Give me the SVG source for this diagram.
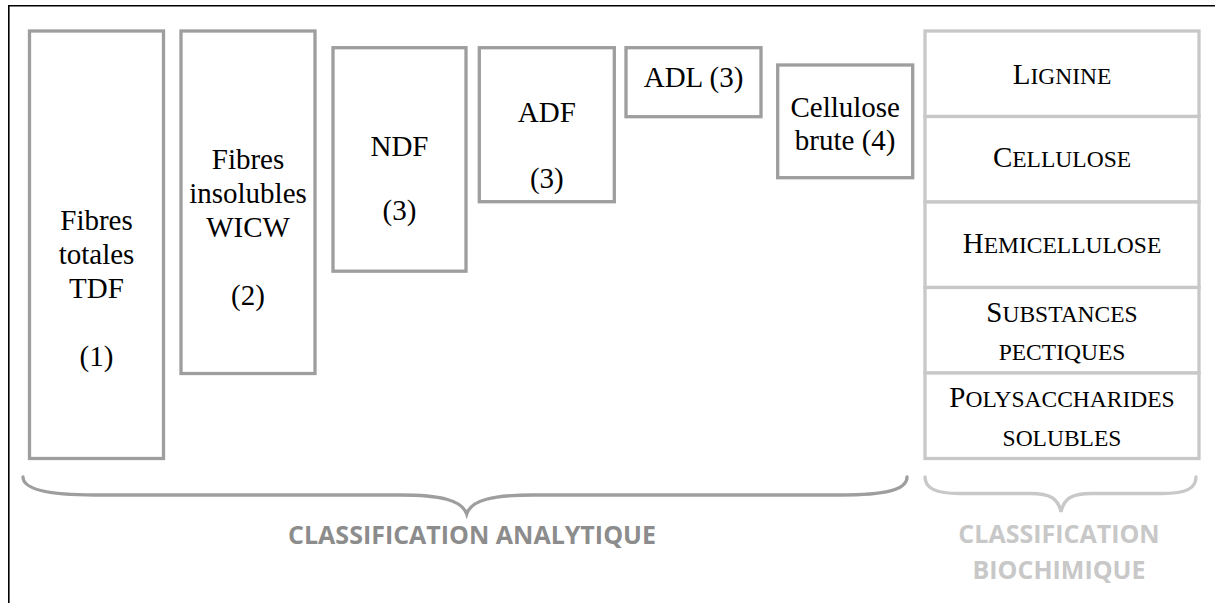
<svg xmlns="http://www.w3.org/2000/svg" width="1215" height="603" viewBox="0 0 1215 603">
<style>
.box{fill:#fff;stroke:#9e9e9e;stroke-width:3.3}
.bio{fill:#fff;stroke:#c8c8c8;stroke-width:3.3}
.t{font-family:"Liberation Serif","Times New Roman",serif;font-size:29px;fill:#000;text-anchor:middle}
.s{font-size:23.5px}
.lab{font-family:"Open Sans","Liberation Sans",sans-serif;font-weight:bold;font-size:25px;text-anchor:middle}
.brace{fill:none;stroke-width:3.3;stroke-linecap:round}
</style>
<rect width="1215" height="603" fill="#fff"/>
<g id="frame" fill="none" stroke="#000" stroke-width="1.6">
<line x1="8" y1="5.8" x2="1215" y2="5.8"/>
<line x1="8.8" y1="5" x2="8.8" y2="603"/>
</g>
<g id="tdf">
<rect class="box" x="29.5" y="31" width="134" height="427.5"/>
<text class="t" x="96.5" y="229.5">Fibres</text>
<text class="t" x="96.5" y="263.5">totales</text>
<text class="t" x="96.5" y="297.5">TDF</text>
<text class="t" x="96.5" y="365.5">(1)</text>
</g>
<g id="wicw">
<rect class="box" x="181" y="31" width="134" height="342.5"/>
<text class="t" x="248" y="169">Fibres</text>
<text class="t" x="248" y="203">insolubles</text>
<text class="t" x="248" y="237">WICW</text>
<text class="t" x="248" y="305">(2)</text>
</g>
<g id="ndf">
<rect class="box" x="333" y="47.7" width="133" height="223.5"/>
<text class="t" x="399.5" y="156">NDF</text>
<text class="t" x="399.5" y="220">(3)</text>
</g>
<g id="adf">
<rect class="box" x="479.3" y="47.7" width="135" height="154"/>
<text class="t" x="546.8" y="121.5">ADF</text>
<text class="t" x="546.8" y="188">(3)</text>
</g>
<g id="adl">
<rect class="box" x="626" y="47.7" width="135" height="69"/>
<text class="t" x="693.5" y="86.7">ADL (3)</text>
</g>
<g id="cellulose-brute">
<rect class="box" x="777.7" y="65" width="135" height="112.7"/>
<text class="t" x="845.2" y="116.7">Cellulose</text>
<text class="t" x="845.2" y="149.5">brute (4)</text>
</g>
<g id="biochimique">
<g id="lignine">
<rect class="bio" x="925" y="31" width="274" height="85.5"/>
<text class="t" x="1062" y="84">L<tspan class="s">IGNINE</tspan></text>
</g>
<g id="cellulose">
<rect class="bio" x="925" y="116.5" width="274" height="85.5"/>
<text class="t" x="1062" y="167">C<tspan class="s">ELLULOSE</tspan></text>
</g>
<g id="hemicellulose">
<rect class="bio" x="925" y="202" width="274" height="85.5"/>
<text class="t" x="1062" y="253">H<tspan class="s">EMICELLULOSE</tspan></text>
</g>
<g id="pectiques">
<rect class="bio" x="925" y="287.5" width="274" height="85.5"/>
<text class="t" x="1062" y="322">S<tspan class="s">UBSTANCES</tspan></text>
<text class="t s" x="1062" y="360">PECTIQUES</text>
</g>
<g id="solubles">
<rect class="bio" x="925" y="373" width="274" height="85.5"/>
<text class="t" x="1062" y="407">P<tspan class="s">OLYSACCHARIDES</tspan></text>
<text class="t s" x="1062" y="446">SOLUBLES</text>
</g>
</g>
<g id="connectors">
<path class="brace" stroke="#9e9e9e" d="M23,477 C23,490 50,495 95,495 L400,495 C440,495 462,500 466.7,514 C471,500 493,495 533,495 L840,495 C885,495 907,490 907,477"/>
<path class="brace" stroke="#c8c8c8" d="M925,477 C925,488 935,493.5 960,493.5 L1030,493.5 C1050,493.5 1058,498 1061,512 C1064,498 1072,493.5 1092,493.5 L1162,493.5 C1187,493.5 1196,488 1196,477"/>
</g>
<g id="label-analytique">
<text class="lab" x="472" y="544" fill="#8c8c8c">CLASSIFICATION ANALYTIQUE</text>
</g>
<g id="label-biochimique">
<text class="lab" x="1059" y="543" fill="#c8c8c8">CLASSIFICATION</text>
<text class="lab" x="1059" y="579" fill="#c8c8c8">BIOCHIMIQUE</text>
</g>
</svg>
